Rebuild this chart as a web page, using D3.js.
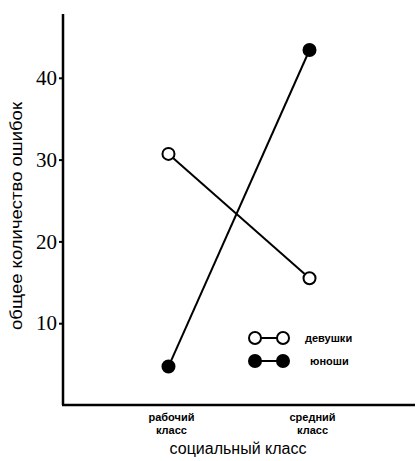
<!DOCTYPE html>
<html>
<head>
<meta charset="utf-8">
<script src="https://cdn.jsdelivr.net/npm/d3@7"></script>
<style>
  html, body { margin: 0; padding: 0; background: #fff; }
  svg { display: block; }
</style>
</head>
<body>
<svg id="chart" width="420" height="461"></svg>
<script>
// Social class categories (two-line labels) and error totals per group
const categories = ["рабочий класс", "средний класс"];
const categoryLines = [["рабочий", "класс"], ["средний", "класс"]];
const girls = [30.7, 15.5];
const boys = [4.7, 43.4];
const yTicks = [10, 20, 30, 40];
const seriesNames = ["девушки", "юноши"];

const svg = d3.select("#chart");
const plotLeft = 63, plotRight = 415, plotTop = 14, plotBottom = 405;

const x = d3.scalePoint().domain(categories).range([plotLeft, plotRight]).padding(0.748);
const y = d3.scaleLinear().domain([0, 47.8]).range([plotBottom, plotTop]);

// Y axis with short ticks to the left
const yAxis = svg.append("g")
  .attr("transform", `translate(${plotLeft},0)`)
  .call(d3.axisLeft(y).tickValues(yTicks).tickSize(4).tickSizeOuter(0).tickPadding(2));
yAxis.select(".domain").remove();
yAxis.selectAll(".tick line").attr("stroke", "#000").attr("stroke-width", 2);
yAxis.selectAll(".tick text")
  .attr("font-family", "Liberation Serif, serif")
  .attr("font-size", 21)
  .attr("fill", "#000");

// Axis lines
svg.append("line").attr("x1", plotLeft).attr("x2", plotLeft).attr("y1", plotTop).attr("y2", plotBottom)
  .attr("stroke", "#000").attr("stroke-width", 2.5);
svg.append("line").attr("x1", plotLeft - 1).attr("x2", plotRight).attr("y1", plotBottom).attr("y2", plotBottom)
  .attr("stroke", "#000").attr("stroke-width", 2.5);

// Category labels
categories.forEach((c, i) => {
  const t = svg.append("text")
    .attr("text-anchor", "middle")
    .attr("font-family", "Liberation Sans, Arial, sans-serif")
    .attr("font-size", 11)
    .attr("font-weight", "bold")
    .attr("fill", "#000");
  categoryLines[i].forEach((line, j) => {
    t.append("tspan").attr("x", x(c) + 3).attr("y", 421 + j * 13).text(line);
  });
});

// Axis titles
svg.append("text")
  .attr("x", 238).attr("y", 454)
  .attr("text-anchor", "middle")
  .attr("font-family", "Liberation Sans, Arial, sans-serif")
  .attr("font-size", 16)
  .attr("fill", "#000")
  .text("социальный класс");

svg.append("text")
  .attr("transform", "translate(22,216) rotate(-90)")
  .attr("text-anchor", "middle")
  .attr("font-family", "Liberation Sans, Arial, sans-serif")
  .attr("font-size", 17)
  .attr("textLength", 228)
  .attr("lengthAdjust", "spacingAndGlyphs")
  .attr("fill", "#000")
  .text("общее количество ошибок");

// Series lines and markers
const line = d3.line().x((d, i) => x(categories[i])).y(d => y(d));
const series = [
  { values: boys, fill: "#000" },
  { values: girls, fill: "#fff" }
];
series.forEach(s => {
  svg.append("path").attr("d", line(s.values))
    .attr("fill", "none").attr("stroke", "#000").attr("stroke-width", 2);
  svg.selectAll(null).data(s.values).enter().append("circle")
    .attr("cx", (d, i) => x(categories[i]))
    .attr("cy", d => y(d))
    .attr("r", 6)
    .attr("fill", s.fill)
    .attr("stroke", "#000")
    .attr("stroke-width", 2);
});

// Legend
const legendRows = [
  { name: seriesNames[0], fill: "#fff", y: 338, tx: 305 },
  { name: seriesNames[1], fill: "#000", y: 361, tx: 310 }
];
legendRows.forEach(r => {
  svg.append("line").attr("x1", 255).attr("x2", 283).attr("y1", r.y).attr("y2", r.y)
    .attr("stroke", "#000").attr("stroke-width", 2);
  [255, 283].forEach(cx => {
    svg.append("circle").attr("cx", cx).attr("cy", r.y).attr("r", 6)
      .attr("fill", r.fill).attr("stroke", "#000").attr("stroke-width", 2);
  });
  svg.append("text")
    .attr("x", r.tx).attr("y", r.y + 4)
    .attr("font-family", "Liberation Sans, Arial, sans-serif")
    .attr("font-size", 11)
    .attr("font-weight", "bold")
    .attr("fill", "#000")
    .text(r.name);
});
</script>
</body>
</html>
